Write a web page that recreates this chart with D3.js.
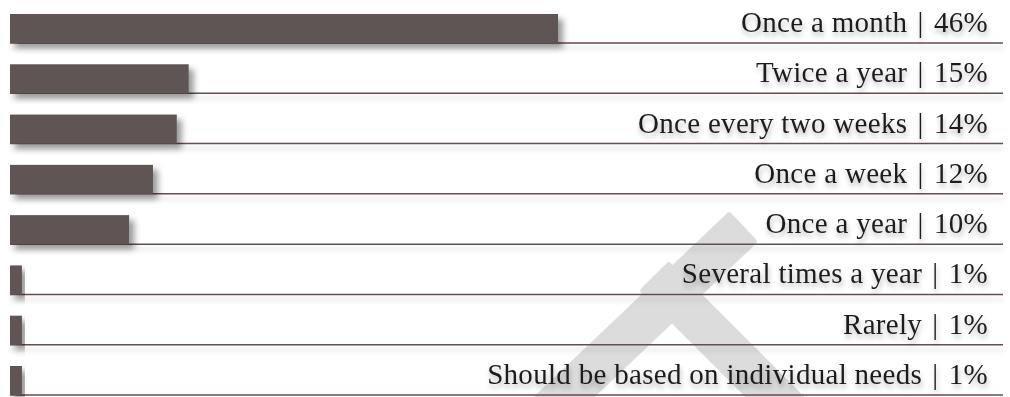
<!DOCTYPE html>
<html>
<head>
<meta charset="utf-8">
<script src="https://cdn.jsdelivr.net/npm/d3@7"></script>
<style>
  html, body { margin: 0; padding: 0; background: #fff; }
  svg { display: block; }
</style>
</head>
<body>
<div id="chart"></div>
<script>
// Survey answers: how often it should happen
const categories = [
  "Once a month",
  "Twice a year",
  "Once every two weeks",
  "Once a week",
  "Once a year",
  "Several times a year",
  "Rarely",
  "Should be based on individual needs"
];
const values = [46, 15, 14, 12, 10, 1, 1, 1];

const W = 1010, H = 397;
const svg = d3.select("#chart").append("svg")
  .attr("width", W).attr("height", H);

const defs = svg.append("defs");
defs.append("filter").attr("id", "barShadow")
  .attr("x", "-10%").attr("y", "-30%").attr("width", "130%").attr("height", "180%")
  .append("feDropShadow")
  .attr("dx", 5).attr("dy", 5).attr("stdDeviation", 3.2)
  .attr("flood-color", "#000").attr("flood-opacity", 0.4);
defs.append("filter").attr("id", "lineShadow")
  .attr("x", "-5%").attr("y", "-500%").attr("width", "110%").attr("height", "1200%")
  .append("feDropShadow")
  .attr("dx", 0).attr("dy", 5).attr("stdDeviation", 2.5)
  .attr("flood-color", "#000").attr("flood-opacity", 0.18);
defs.append("filter").attr("id", "textShadow")
  .attr("x", "-5%").attr("y", "-30%").attr("width", "110%").attr("height", "170%")
  .append("feDropShadow")
  .attr("dx", 1).attr("dy", 4).attr("stdDeviation", 2.5)
  .attr("flood-color", "#000").attr("flood-opacity", 0.28);

svg.append("rect").attr("width", W).attr("height", H).attr("fill", "#fff");

// faint logo mark in the background: two broad strokes
const logoStrokes = [
  [[729.1, 215.4], [753.9, 241.5], [552.4, 433.0], [527.6, 406.9]],
  [[668.7, 265.3], [643.3, 290.7], [803.3, 450.7], [828.7, 425.3]]
];
svg.append("g")
  .selectAll("path").data(logoStrokes).join("path")
  .attr("d", s => "M" + s.map(p => p.join(",")).join("L") + "Z")
  .attr("fill", "#dcdcdc")
  .attr("stroke", "#dcdcdc")
  .attr("stroke-width", 6)
  .attr("stroke-linejoin", "round");

const x = d3.scaleLinear()
  .domain([0, d3.max(values)])
  .range([10, 558]);

const y = d3.scalePoint()
  .domain(categories)
  .range([43, 395]);

const barH = 29;

// baseline rules
svg.append("g").attr("filter", "url(#lineShadow)")
  .selectAll("line").data(categories).join("line")
  .attr("x1", 10).attr("x2", 1003)
  .attr("y1", d => y(d)).attr("y2", d => y(d))
  .attr("stroke", "#6b4b4b").attr("stroke-width", 1.5);

// bars
svg.append("g")
  .selectAll("rect").data(categories).join("rect")
  .attr("x", x(0))
  .attr("y", d => y(d) - barH)
  .attr("width", (d, i) => x(values[i]) - x(0))
  .attr("height", barH)
  .attr("fill", "#5e5555")
  .attr("filter", "url(#barShadow)");

// labels: "category | value%"
svg.append("g")
  .selectAll("text").data(categories).join("text")
  .attr("x", 988)
  .attr("y", d => y(d) - 11)
  .attr("text-anchor", "end")
  .attr("font-family", "'Liberation Serif', 'Times New Roman', serif")
  .attr("font-size", 29)
  .attr("letter-spacing", 0.3)
  .attr("fill", "#1e1e1e")
  .attr("filter", "url(#textShadow)")
  .style("white-space", "pre")
  .text((d, i) => `${d} \u200A|\u200A ${values[i]}%`);
</script>
</body>
</html>
